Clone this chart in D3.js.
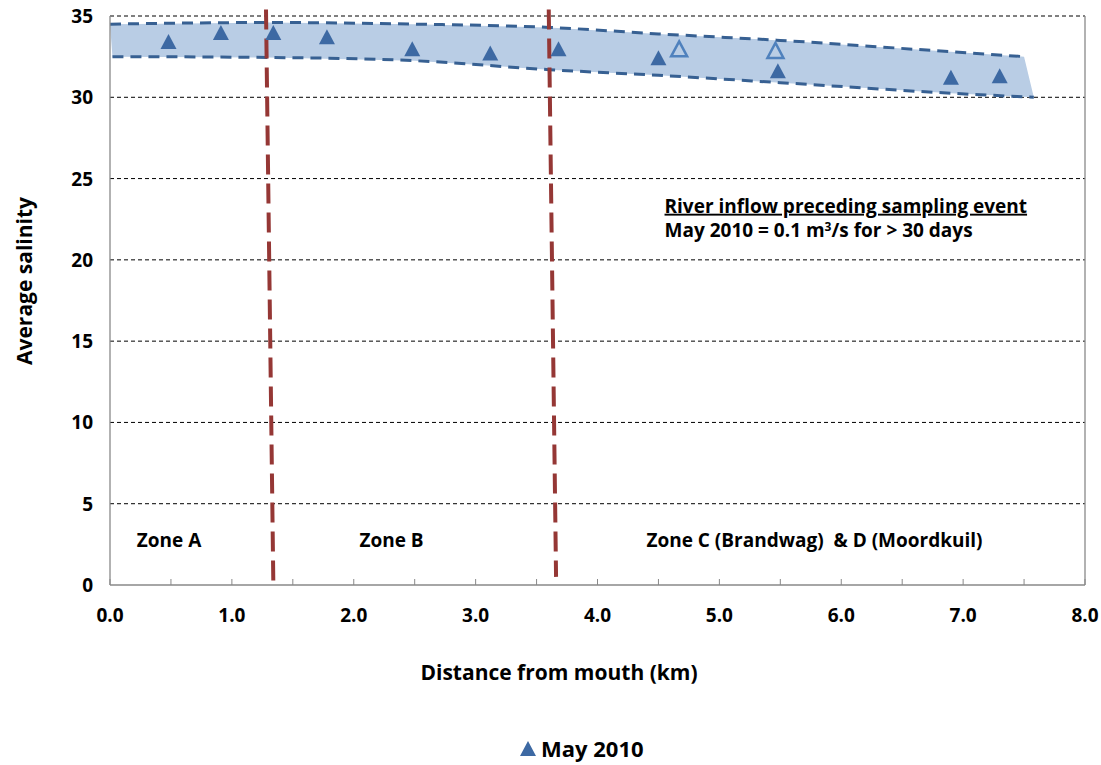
<!DOCTYPE html>
<html>
<head>
<meta charset="utf-8">
<script src="https://cdn.jsdelivr.net/npm/d3@7"></script>
<style>
  body { margin: 0; background: #fff; }
  svg text { font-family: "Open Sans", "Noto Sans", sans-serif; font-weight: bold; fill: #000; }
</style>
</head>
<body>
<div id="viz"></div>
<script>
// May 2010 samples (filled), and two extra samples (open)
let distance = [0.48, 0.91, 1.34, 1.78, 2.48, 3.12, 3.68, 4.50, 5.48, 6.90, 7.30];
let salinity = [33.4, 33.95, 33.95, 33.7, 32.95, 32.7, 32.95, 32.4, 31.6, 31.2, 31.3];
let openDistance = [4.67, 5.46];
let openSalinity = [32.95, 32.85];

// envelope around the samples
let upperX = [0.0, 1.3, 2.5, 3.6, 4.5, 5.5, 6.9, 7.5];
let upperY = [34.5, 34.6, 34.5, 34.3, 33.9, 33.5, 32.8, 32.5];
let lowerX = [0.02, 1.3, 2.5, 3.6, 4.5, 5.5, 6.9, 7.58];
let lowerY = [32.5, 32.45, 32.25, 31.7, 31.35, 30.9, 30.25, 30.0];

// zone boundaries (top x, bottom x)
let zoneTop = [1.28, 3.60];
let zoneBottom = [1.34, 3.66];
let zoneLabels = ['Zone A', 'Zone B', 'Zone C (Brandwag)  & D (Moordkuil)'];
let zoneLabelX = [0.484, 2.31, 5.78];

let xTicks = [0, 1, 2, 3, 4, 5, 6, 7, 8];
let xMinor = d3.range(0, 8.01, 0.5);
let yTicks = [0, 5, 10, 15, 20, 25, 30, 35];

let margin = { top: 16, right: 16, bottom: 180, left: 110 },
    width = 1101 - margin.left - margin.right,
    height = 765 - margin.top - margin.bottom;

let svg = d3.select('#viz').append('svg')
  .attr('width', 1101)
  .attr('height', 765);

let g = svg.append('g')
  .attr('transform', 'translate(' + margin.left + ',' + margin.top + ')');

let xScale = d3.scaleLinear().domain([0, 8]).range([0, width]);
let yScale = d3.scaleLinear().domain([0, 35]).range([height, 0]);

// gridlines
g.selectAll('.grid').data(yTicks.filter(function(d) { return d > 0; }))
  .enter().append('line')
  .attr('x1', 0).attr('x2', width)
  .attr('y1', function(d) { return yScale(d); })
  .attr('y2', function(d) { return yScale(d); })
  .attr('stroke', '#000')
  .attr('stroke-width', 1)
  .attr('stroke-dasharray', '4,3');

// envelope fill
let band = upperX.map(function(x, i) { return [x, upperY[i]]; })
  .concat(lowerX.map(function(x, i) { return [x, lowerY[i]]; }).reverse());

g.append('path')
  .attr('d', d3.line()
    .x(function(d) { return xScale(d[0]); })
    .y(function(d) { return yScale(d[1]); })
    .curve(d3.curveLinearClosed)(band))
  .attr('fill', '#b9cde5');

let edge = d3.line()
  .x(function(d) { return xScale(d[0]); })
  .y(function(d) { return yScale(d[1]); })
  .curve(d3.curveMonotoneX);

[[upperX, upperY], [lowerX, lowerY]].forEach(function(s) {
  g.append('path')
    .attr('d', edge(s[0].map(function(x, i) { return [x, s[1][i]]; })))
    .attr('fill', 'none')
    .attr('stroke', '#376092')
    .attr('stroke-width', 3)
    .attr('stroke-dasharray', '11,7');
});

// axes frame
g.append('line').attr('x1', 0).attr('x2', 0).attr('y1', 0).attr('y2', height)
  .attr('stroke', '#898989').attr('stroke-width', 1.3);
g.append('line').attr('x1', width).attr('x2', width).attr('y1', 0).attr('y2', height)
  .attr('stroke', '#898989').attr('stroke-width', 1.3);
g.append('line').attr('x1', 0).attr('x2', width).attr('y1', height).attr('y2', height)
  .attr('stroke', '#898989').attr('stroke-width', 1.3);

g.selectAll('.minor').data(xMinor)
  .enter().append('line')
  .attr('x1', function(d) { return xScale(d); })
  .attr('x2', function(d) { return xScale(d); })
  .attr('y1', height).attr('y2', height - 6)
  .attr('stroke', '#898989');

// zone lines
g.selectAll('.zone').data(zoneTop)
  .enter().append('line')
  .attr('x1', function(d) { return xScale(d); })
  .attr('x2', function(d, i) { return xScale(zoneBottom[i]); })
  .attr('y1', yScale(35.4))
  .attr('y2', function(d, i) { return yScale(i === 0 ? 0.2 : 0.5); })
  .attr('stroke', '#953735')
  .attr('stroke-width', 4)
  .attr('stroke-dasharray', '20,9');

// markers
function tri(cx, cy) {
  return 'M' + cx + ',' + (cy - 8) + 'L' + (cx + 8) + ',' + (cy + 7) + 'L' + (cx - 8) + ',' + (cy + 7) + 'Z';
}

g.selectAll('.pt').data(distance)
  .enter().append('path')
  .attr('d', function(d, i) { return tri(xScale(d), yScale(salinity[i])); })
  .attr('fill', '#3d69a3');

g.selectAll('.open').data(openDistance)
  .enter().append('path')
  .attr('d', function(d, i) { return tri(xScale(d), yScale(openSalinity[i])); })
  .attr('fill', 'none')
  .attr('stroke', '#4f81bd')
  .attr('stroke-width', 2.5);

// tick labels
g.selectAll('.xl').data(xTicks)
  .enter().append('text')
  .attr('x', function(d) { return xScale(d); })
  .attr('y', height + 37)
  .attr('text-anchor', 'middle')
  .style('font-size', '19px')
  .text(function(d) { return d.toFixed(1); });

g.selectAll('.yl').data(yTicks)
  .enter().append('text')
  .attr('x', -17)
  .attr('y', function(d) { return yScale(d) + 7; })
  .attr('text-anchor', 'end')
  .style('font-size', '19px')
  .text(function(d) { return d; });

// zone labels
g.selectAll('.zl').data(zoneLabels)
  .enter().append('text')
  .attr('x', function(d, i) { return xScale(zoneLabelX[i]); })
  .attr('y', yScale(2.35))
  .attr('text-anchor', 'middle')
  .style('font-size', '19px')
  .style('white-space', 'pre')
  .text(function(d) { return d; });

// note
g.append('text')
  .attr('x', xScale(4.55)).attr('y', yScale(22.9))
  .style('font-size', '19px')
  .style('text-decoration', 'underline')
  .text('River inflow preceding sampling event');

let note = g.append('text')
  .attr('x', xScale(4.55)).attr('y', yScale(21.4))
  .style('font-size', '19px');
note.append('tspan').text('May 2010 = 0.1 m');
note.append('tspan').attr('dy', -6).style('font-size', '12px').text('3');
note.append('tspan').attr('dy', 6).text('/s for > 30 days');

// axis titles
svg.append('text')
  .attr('x', 559).attr('y', 680)
  .attr('text-anchor', 'middle')
  .style('font-size', '21px')
  .text('Distance from mouth (km)');

svg.append('text')
  .attr('transform', 'translate(32,281) rotate(-90)')
  .attr('text-anchor', 'middle')
  .style('font-size', '21px')
  .text('Average salinity');

// legend
svg.append('path')
  .attr('d', tri(528, 749))
  .attr('fill', '#3d69a3');
svg.append('text')
  .attr('x', 541).attr('y', 757)
  .style('font-size', '22px')
  .text('May 2010');
</script>
</body>
</html>
